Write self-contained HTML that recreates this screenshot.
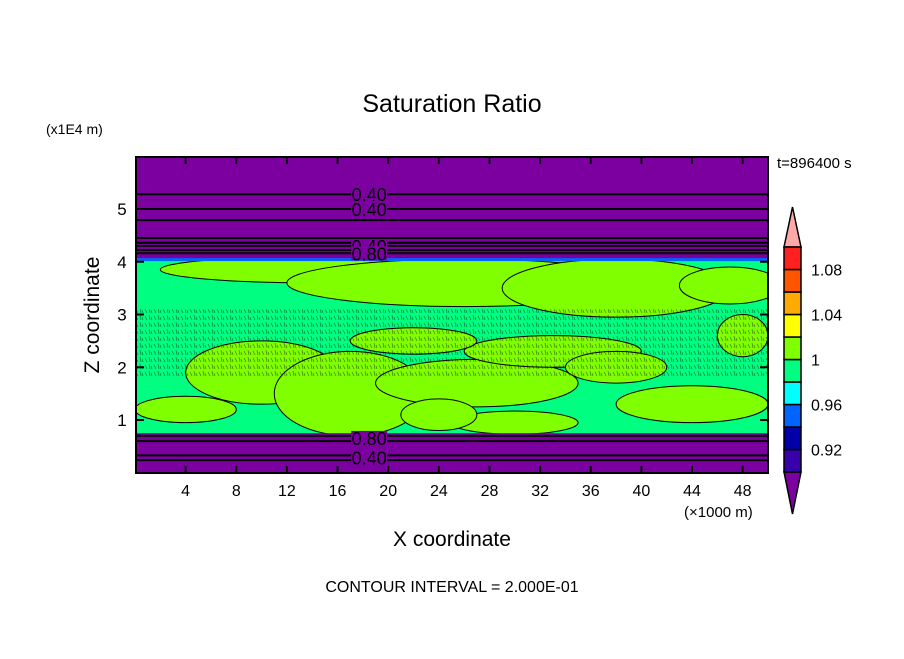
<!DOCTYPE html>
<html><head><meta charset="utf-8"><style>
body{margin:0;background:#fff;width:904px;height:654px;overflow:hidden}
svg text{font-family:"Liberation Sans",sans-serif}
</style></head><body>
<svg id="chart" width="904" height="654" viewBox="0 0 904 654">
<defs>
<pattern id="speck" width="9" height="7" patternUnits="userSpaceOnUse">
<path d="M1 1 l2 4 M5 0 l1 5 M7 2 l1 3" stroke="#000" stroke-width="0.8" fill="none"/>
</pattern>
<clipPath id="pc"><rect x="136" y="157" width="632" height="316"/></clipPath>
</defs>
<text x="452" y="112" font-size="25" text-anchor="middle">Saturation Ratio</text>
<text x="46" y="134" font-size="14">(x1E4 m)</text>
<text x="777" y="168" font-size="15">t=896400 s</text>
<g id="plot" clip-path="url(#pc)"></g>
<rect x="136" y="157" width="632" height="316" fill="none" stroke="#000" stroke-width="2"/>
<g id="axes"></g>
<text x="452" y="546" font-size="21" text-anchor="middle">X coordinate</text>
<text x="684" y="517" font-size="15">(×1000 m)</text>
<text transform="translate(99,315) rotate(-90)" font-size="21" text-anchor="middle">Z coordinate</text>
<text x="452" y="592" font-size="16" text-anchor="middle">CONTOUR INTERVAL = 2.000E-01</text>
<g id="cbar"></g>
</svg>
<script>
const xTicks=[4,8,12,16,20,24,28,32,36,40,44,48];
const yTicks=[1,2,3,4,5];
const topPurpleZ=4.05, botPurpleZ=0.75;
const upperContours=[5.28,5.0,4.79,4.45,4.36,4.3,4.22,4.16];
const lowerContours=[0.7,0.6,0.33,0.24];
const contourLabels=[[18.5,5.28,"0.40"],[18.5,5.0,"0.40"],[18.5,4.3,"0.40"],[18.5,4.16,"0.80"],[18.5,0.66,"0.80"],[18.5,0.29,"0.40"]];
const limeBlobs=[[14,3.85,12,0.25],[26,3.6,14,0.45],[38,3.5,9,0.55],[47,3.55,4,0.35],[10,1.9,6,0.6],[17,1.5,6,0.8],[27,1.7,8,0.45],[33,2.3,7,0.3],[44,1.3,6,0.35],[30,0.95,5,0.22],[4,1.2,4,0.25],[22,2.5,5,0.25],[38,2.0,4,0.3],[48,2.6,2,0.4],[24,1.1,3,0.3]];
const cbLevels=["0.92","0.96","1","1.04","1.08"];
const cbColors=["#3800a8","#0000a8","#0064ff","#00ffff","#00ff80","#80ff00","#ffff00","#ffaa00","#ff5500","#ff2020"];
const X=v=>135+v*12.66, Z=v=>472.75-v*52.75;
const NS="http://www.w3.org/2000/svg";
function mk(t,a,p){const e=document.createElementNS(NS,t);for(const k in a)e.setAttribute(k,a[k]);p.appendChild(e);return e;}
const plot=document.getElementById('plot');
let r=mk('rect',{x:136,y:157,width:632,height:316,fill:"#00ff80"},plot);

limeBlobs.forEach(b=>{const e=mk('ellipse',{cx:X(b[0]),cy:Z(b[1]),rx:b[2]*12.66,ry:b[3]*52.75,fill:"#80ff00",stroke:"#000","stroke-width":1},plot);
});
let s=mk('rect',{x:136,y:Z(3.1),width:632,height:Z(1.8)-Z(3.1),fill:"url(#speck)",opacity:0.45},plot);

let tp=mk('rect',{x:136,y:157,width:632,height:Z(topPurpleZ)-157,fill:"#7c00a0"},plot);

let bl=mk('rect',{x:136,y:Z(topPurpleZ)-1,width:632,height:3,fill:"#0064ff"},plot);

let bp=mk('rect',{x:136,y:Z(botPurpleZ),width:632,height:473-Z(botPurpleZ),fill:"#7c00a0"},plot);

upperContours.concat(lowerContours).forEach(z=>{const l=mk('line',{x1:136,x2:768,y1:Z(z),y2:Z(z),stroke:"#000","stroke-width":2},plot);
});
contourLabels.forEach(c=>{const bg=mk('rect',{x:X(c[0])-18,y:Z(c[1])-7,width:36,height:14,fill:"#7c00a0"},plot);

const t=mk('text',{x:X(c[0]),y:Z(c[1])+7,"font-size":18,"text-anchor":"middle",fill:"#000"},plot);t.textContent=c[2];
});
const axes=document.getElementById('axes');
xTicks.forEach(v=>{for(const [y1,y2] of [[473,466],[157,164]]){const l=mk('line',{x1:X(v),x2:X(v),y1:y1,y2:y2,stroke:"#000","stroke-width":2},axes);
}
const t=mk('text',{x:X(v),y:496,"font-size":16,"text-anchor":"middle"},axes);t.textContent=v;
});
yTicks.forEach(v=>{for(const [x1,x2] of [[136,144],[768,760]]){const l=mk('line',{x1:x1,x2:x2,y1:Z(v),y2:Z(v),stroke:"#000","stroke-width":2},axes);
}
const t=mk('text',{x:122,y:Z(v)+6,"font-size":17,"text-anchor":"middle"},axes);t.textContent=v;
});
const cb=document.getElementById('cbar');
const cx0=784,cw=17,ctop=247,cbot=472,bh=(cbot-ctop)/cbColors.length;
let tri=mk('polygon',{points:`${cx0},${ctop} ${cx0+cw/2},207 ${cx0+cw},${ctop}`,fill:"#ffa8a8",stroke:"#000","stroke-width":1.5},cb);

let tri2=mk('polygon',{points:`${cx0},${cbot} ${cx0+cw/2},514 ${cx0+cw},${cbot}`,fill:"#7c00a0",stroke:"#000","stroke-width":1.5},cb);

cbColors.forEach((c,i)=>{const e=mk('rect',{x:cx0,y:cbot-(i+1)*bh,width:cw,height:bh,fill:c,stroke:"#000","stroke-width":1.5},cb);
});
cbLevels.forEach((v,i)=>{const t=mk('text',{x:811,y:cbot-(2*i+1)*bh+6,"font-size":16},cb);t.textContent=v;
});
</script>
</body></html>
